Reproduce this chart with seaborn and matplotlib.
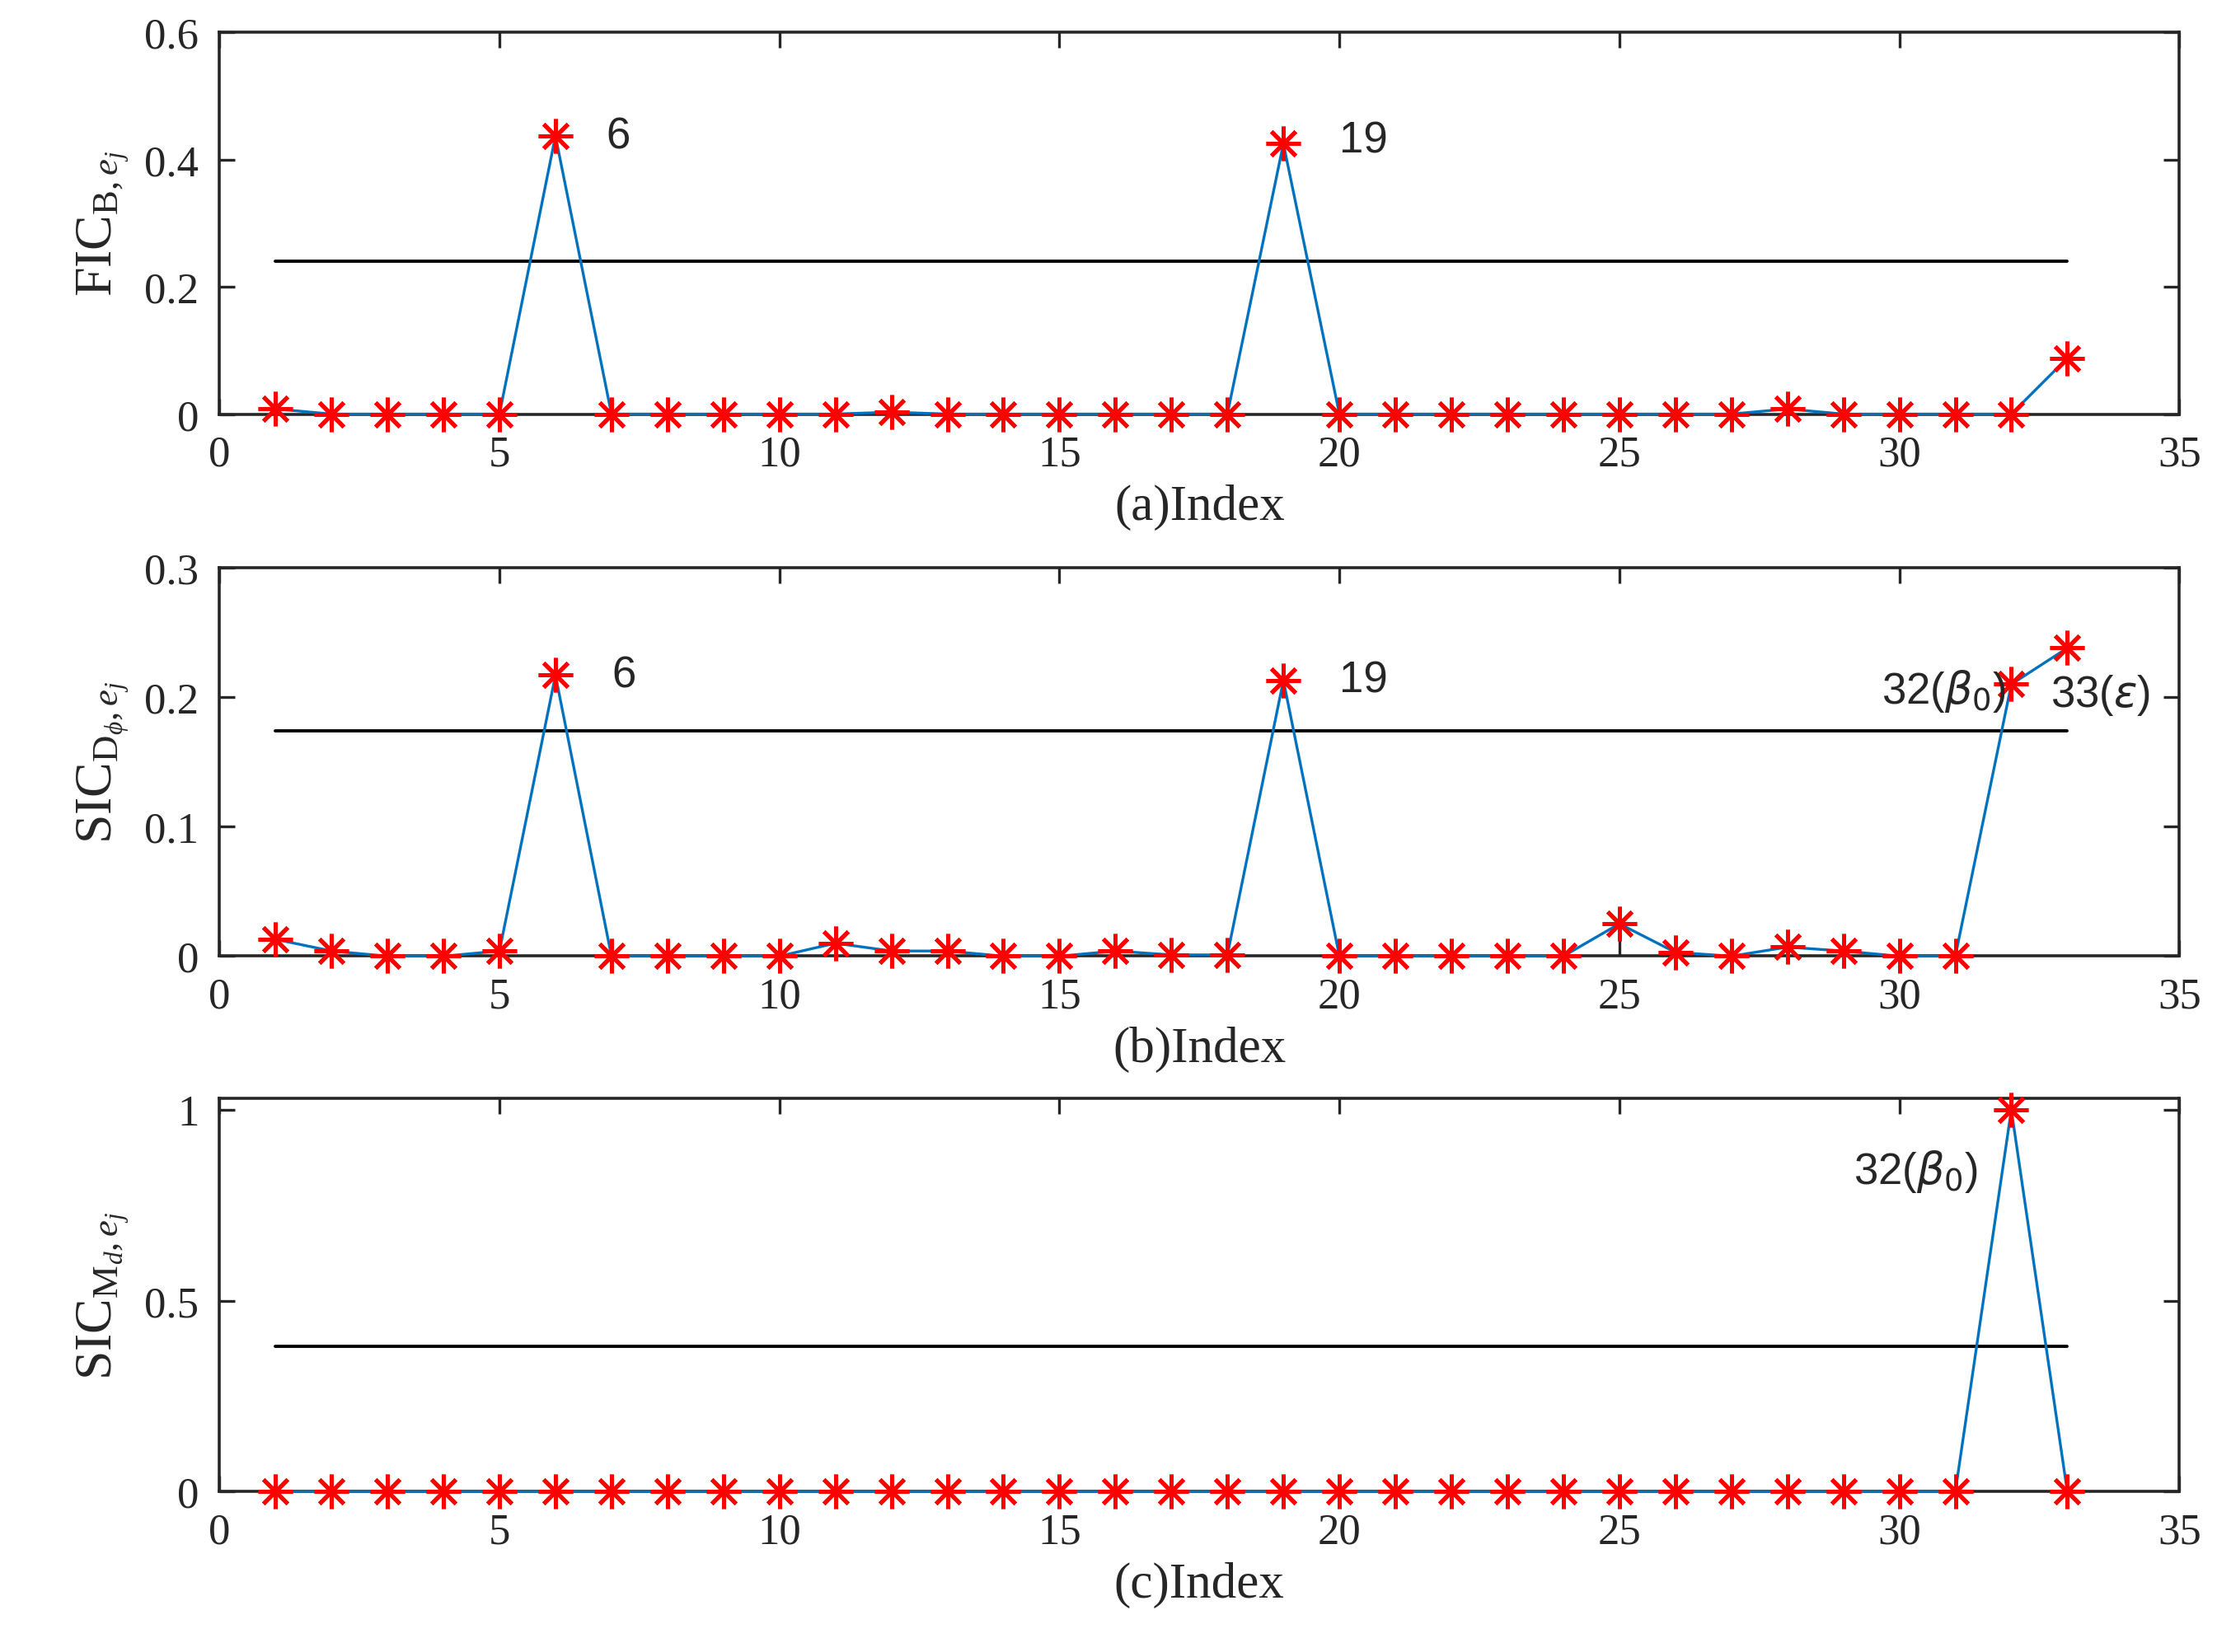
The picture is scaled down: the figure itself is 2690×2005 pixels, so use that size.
import numpy as np
import pandas as pd
import matplotlib
matplotlib.use('Agg')
import matplotlib.pyplot as plt
import seaborn as sns

idx = list(range(1, 34))
fic_b = [0.008, 0, 0, 0, 0, 0.437, 0, 0, 0, 0, 0, 0.003, 0, 0, 0, 0, 0, 0,
         0.425, 0, 0, 0, 0, 0, 0, 0, 0, 0.008, 0, 0, 0, 0, 0.088]
sic_d = [0.013, 0.004, 0, 0, 0.004, 0.217, 0, 0, 0, 0, 0.01, 0.004, 0.004, 0, 0,
         0.004, 0.001, 0.001, 0.213, 0, 0, 0, 0, 0, 0.025, 0.003, 0, 0.007, 0.004,
         0, 0, 0.21, 0.238]
sic_m = [0] * 31 + [1.0, 0]
thresholds = [0.24, 0.174, 0.38]
ylabels = [r'FIC$_{\mathrm{B},e_j}$', r'SIC$_{\mathrm{D}_\phi,e_j}$', r'SIC$_{\mathrm{M}_d,e_j}$']
xlabels = ['(a)Index', '(b)Index', '(c)Index']
ylims = [(0, 0.6), (0, 0.3), (0, 1.03)]
yticks = [[0, 0.2, 0.4, 0.6], [0, 0.1, 0.2, 0.3], [0, 0.5, 1]]
notes = [
    [(6.9, 0.437, '6'), (20.0, 0.43, '19')],
    [(7.0, 0.217, '6'), (20.0, 0.213, '19'), (31.9, 0.205, r'32($\beta_0$)', 'right'),
     (32.7, 0.202, r'33($\epsilon$)')],
    [(31.4, 0.84, r'32($\beta_0$)', 'right')],
]

sns.set_style('ticks')
plt.rcParams['font.family'] = ['Liberation Serif', 'DejaVu Serif']
plt.rcParams['mathtext.fontset'] = 'custom'
plt.rcParams['mathtext.rm'] = 'Liberation Serif'
plt.rcParams['mathtext.it'] = 'Liberation Serif:italic'

fig = plt.figure(figsize=(13.45, 10.03), dpi=200)
boxes = [(0.099, 0.749, 0.884, 0.231), (0.099, 0.421, 0.884, 0.235), (0.099, 0.097, 0.884, 0.238)]
series = [fic_b, sic_d, sic_m]

for i in range(3):
    ax = fig.add_axes(boxes[i])
    df = pd.DataFrame({'Index': idx, 'val': series[i]})
    sns.lineplot(data=df, x='Index', y='val', ax=ax, color='#0072BD', lw=1.2,
                 marker=(8, 2, 0), markersize=15, markeredgecolor='red',
                 markeredgewidth=1.8, zorder=3, clip_on=False)
    ax.plot([idx[0], idx[-1]], [thresholds[i]] * 2, color='black', lw=1.4)
    ax.set_xlim(0, 35)
    ax.set_ylim(*ylims[i])
    ax.set_xticks(range(0, 36, 5))
    ax.set_yticks(yticks[i])
    ax.set_yticklabels([f'{t:g}' for t in yticks[i]])
    ax.tick_params(direction='in', top=True, right=True, labelsize=19, length=7,
                   width=1.2, pad=9)
    for s in ax.spines.values():
        s.set_linewidth(1.3)
    ax.set_xlabel(xlabels[i], fontsize=22, labelpad=4)
    ax.set_ylabel(ylabels[i], fontsize=23, labelpad=6)
    for n in notes[i]:
        ha = n[3] if len(n) > 3 else 'left'
        ax.text(n[0], n[1], n[2], fontsize=19, ha=ha, va='center',
                family=['Liberation Sans', 'DejaVu Sans'],
                math_fontfamily='dejavusans')

fig.savefig('out.png', dpi=200)
